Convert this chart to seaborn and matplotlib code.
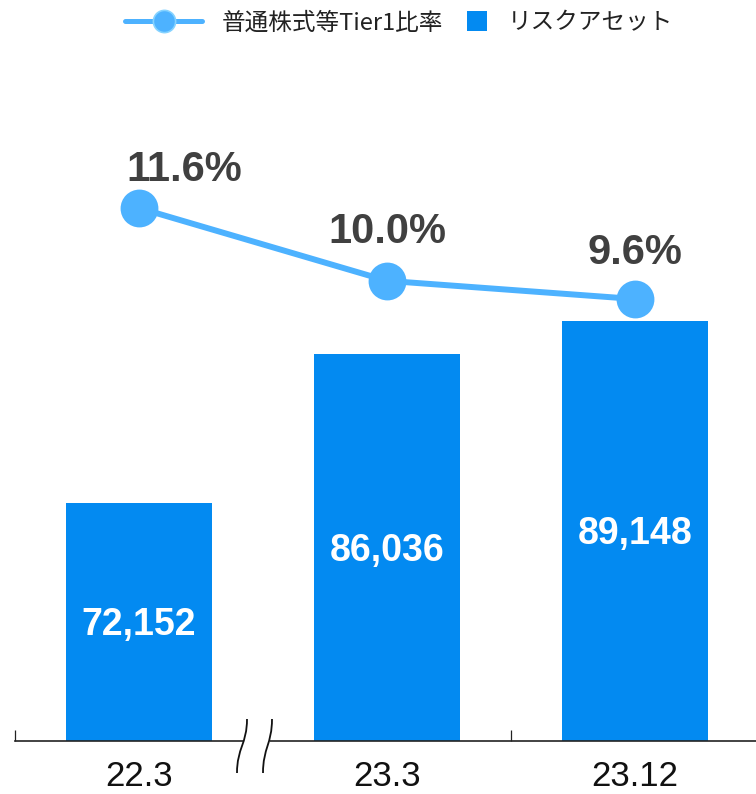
import numpy as np
import pandas as pd
import matplotlib
matplotlib.use("Agg")
import matplotlib.pyplot as plt
import seaborn as sns
from matplotlib.lines import Line2D
from matplotlib.patches import Rectangle, PathPatch
from matplotlib.path import Path
from matplotlib.legend_handler import HandlerBase

# ---- data ----
periods = ["22.3", "23.3", "23.12"]
risk_assets = [72152, 86036, 89148]          # リスクアセット
cet1_ratio = [11.6, 10.0, 9.6]               # 普通株式等Tier1比率 (%)
asset_labels = ["72,152", "86,036", "89,148"]
ratio_labels = ["11.6%", "10.0%", "9.6%"]
legend_labels = ["普通株式等Tier1比率", "リスクアセット"]

BAR = "#038AF1"
LINE = "#4DB2FF"
DARK = "#404040"

sns.set_theme(style="white")
plt.rcParams["font.family"] = ["Liberation Sans", "Noto Sans CJK JP", "DejaVu Sans"]

W, H = 756, 794
fig = plt.figure(figsize=(W / 100, H / 100), dpi=100)
fig.patch.set_facecolor("white")
ax = fig.add_axes([15 / W, 53 / H, 744 / W, 681 / H])

df = pd.DataFrame({"period": periods, "assets": risk_assets, "ratio": cet1_ratio})

# bars: risk assets (axis is broken, starts near 50,000)
sns.barplot(data=df, x="period", y="assets", color=BAR, saturation=1,
            width=0.59, linewidth=0, ax=ax, zorder=2)
ax.set_ylim(49900, 113497)
ymin = ax.get_ylim()[0]
for i, (v, lab) in enumerate(zip(risk_assets, asset_labels)):
    ax.annotate(lab, xy=(i, (ymin + v) / 2), xytext=(0, -13.5),
                textcoords="offset pixels", ha="center", va="baseline",
                color="white", fontsize=27, fontweight="bold")

# line: CET1 ratio on a secondary scale
ax2 = ax.twinx()
sns.pointplot(data=df, x="period", y="ratio", color=LINE, errorbar=None,
              markers="o", markersize=24, linewidth=4.3, ax=ax2)
ax2.set_ylim(-0.114, 14.853)
offsets = [(45, 27), (0, 38), (0, 35)]
for i, (r, lab, off) in enumerate(zip(cet1_ratio, ratio_labels, offsets)):
    ax2.annotate(lab, xy=(i, r), xytext=off, textcoords="offset pixels",
                 ha="center", va="baseline", color=DARK, fontsize=30,
                 fontweight="bold")

for a in (ax, ax2):
    a.set_xlim(-0.5, 2.5)
    a.set_xlabel("")
    a.set_ylabel("")
    a.set_yticks([])
    for s in ("top", "right", "left"):
        a.spines[s].set_visible(False)
ax2.spines["bottom"].set_visible(False)
ax.set_facecolor("none")
ax.spines["bottom"].set_color("#222222")
ax.spines["bottom"].set_linewidth(1.2)

ax.set_xticks(range(len(periods)))
ax.set_xticklabels(periods)
ax.tick_params(axis="x", which="major", length=0, pad=14, labelsize=25,
               labelcolor="#111111")
ax.set_xticks([-0.5, 1.5], minor=True)
ax.tick_params(axis="x", which="minor", direction="in", length=8, width=0.9,
               color="#222222", bottom=True)


# axis break mark between the first and second period
def px(x, y):
    return ((x - 15) / 744, (741 - y) / 681)


gap = Rectangle(px(243, 744), (270 - 243) / 744, 6 / 681, transform=ax.transAxes,
                facecolor="white", edgecolor="none", clip_on=False, zorder=5)
ax.add_patch(gap)
for xb, xt in ((237, 247), (263, 272)):
    verts = [px(xb, 773), px(xb, 748), px(xt, 744), px(xt, 719)]
    path = Path(verts, [Path.MOVETO, Path.CURVE4, Path.CURVE4, Path.CURVE4])
    ax.add_patch(PathPatch(path, transform=ax.transAxes, facecolor="none",
                           edgecolor="#111111", lw=1.3, clip_on=False, zorder=6))


# legend
class SquareHandler(HandlerBase):
    def create_artists(self, legend, orig_handle, xdescent, ydescent, width,
                       height, fontsize, trans):
        side = 14.4
        r = Rectangle((width - xdescent - side, height / 2 - ydescent - side / 2),
                      side, side, facecolor=BAR, edgecolor="none", transform=trans)
        return [r]


line_h = Line2D([], [], color=LINE, lw=3.6, marker="o", markersize=16,
                markerfacecolor=LINE, markeredgecolor="#86D3FF", markeredgewidth=1.2)
sq_h = Rectangle((0, 0), 1, 1, facecolor=BAR)
fs = 17
em = fs * 100 / 72
leg = fig.legend(handles=[line_h, sq_h], labels=legend_labels, loc="center left",
                 bbox_to_anchor=(125 / W, 1 - 23 / H), ncol=2, frameon=False,
                 fontsize=fs, numpoints=1, handlelength=77 / em,
                 handletextpad=20 / em, columnspacing=-33 / em,
                 borderpad=0, borderaxespad=0,
                 handler_map={Rectangle: SquareHandler()},
                 prop={"family": ["Noto Sans CJK JP", "DejaVu Sans"], "size": fs})
for t in leg.get_texts():
    t.set_color("#222222")

fig.savefig("out.png", dpi=100)
